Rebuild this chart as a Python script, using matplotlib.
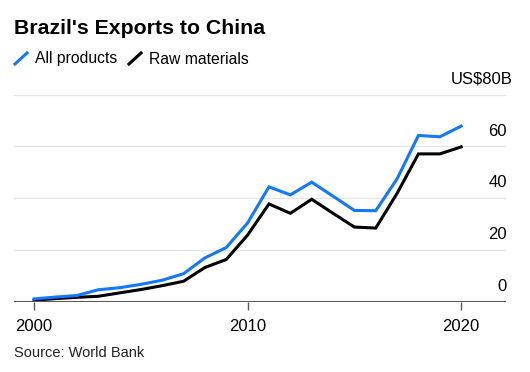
import matplotlib.pyplot as plt
from matplotlib.lines import Line2D

# values (US$ billions)
years = list(range(2000, 2021))
all_products = [1.2, 1.9, 2.5, 4.7, 5.5, 6.8, 8.4, 10.9, 17.0, 21.0, 30.5,
                44.4, 41.3, 46.2, 40.8, 35.3, 35.2, 47.5, 64.2, 63.7, 67.8]
raw_materials = [0.7, 1.3, 1.8, 2.2, 3.5, 4.8, 6.3, 8.0, 13.3, 16.4, 25.8,
                 37.8, 34.2, 39.6, 34.2, 28.9, 28.5, 41.9, 57.1, 57.1, 59.8]
y_ticks = [0, 20, 40, 60]
x_ticks = [2000, 2010, 2020]

BLUE = '#1478ff'
W, H = 530, 372

plt.rcParams['font.family'] = ['Liberation Sans', 'DejaVu Sans']

fig = plt.figure(figsize=(W / 100, H / 100), dpi=100)
ax = fig.add_axes([14 / W, 70 / H, 492 / W, 207.5 / H])

ax.plot(years, raw_materials, color='black', lw=2.2, solid_joinstyle='miter', zorder=3)
ax.plot(years, all_products, color=BLUE, lw=2.2, solid_joinstyle='miter', zorder=4)

ax.set_xlim(1999.06, 2022.1)
ax.set_ylim(0, 80)

# gridlines and right-side labels sitting above them
for v in y_ticks[1:] + [80]:
    ax.axhline(v, color='#e6e6e6', lw=1, zorder=1)
for v in y_ticks:
    ax.text(1.002, v + 3.0, str(v), transform=ax.get_yaxis_transform(),
            ha='right', va='bottom', fontsize=12, color='black')
fig.text(513 / W, 1 - 79 / H, 'US$80B', ha='right', va='center', fontsize=12)

ax.axhline(0, color='#5a5a5a', lw=1.5, zorder=5)
for s in ax.spines.values():
    s.set_visible(False)
ax.set_yticks([])
ax.set_xticks(x_ticks)
ax.set_xticklabels([str(x) for x in x_ticks], fontsize=12)
ax.tick_params(axis='x', length=6, width=1, color='#5a5a5a', pad=6)

fig.text(14 / W, 1 - 28 / H, "Brazil's Exports to China", fontsize=15.3,
         fontweight='bold', ha='left', va='center')

# legend: short diagonal strokes
for x0, col in [(15, BLUE), (129, 'black')]:
    fig.add_artist(Line2D([x0 / W, (x0 + 12) / W], [1 - 64 / H, 1 - 53 / H],
                          color=col, lw=2.2, transform=fig.transFigure))
fig.text(35 / W, 1 - 59 / H, 'All products', fontsize=11.3, ha='left', va='center')
fig.text(149 / W, 1 - 59 / H, 'Raw materials', fontsize=11.3, ha='left', va='center')

fig.text(14 / W, 1 - 353 / H, 'Source: World Bank', fontsize=10.5,
         ha='left', va='center', color='#222222')

fig.savefig('out.png', dpi=100)
